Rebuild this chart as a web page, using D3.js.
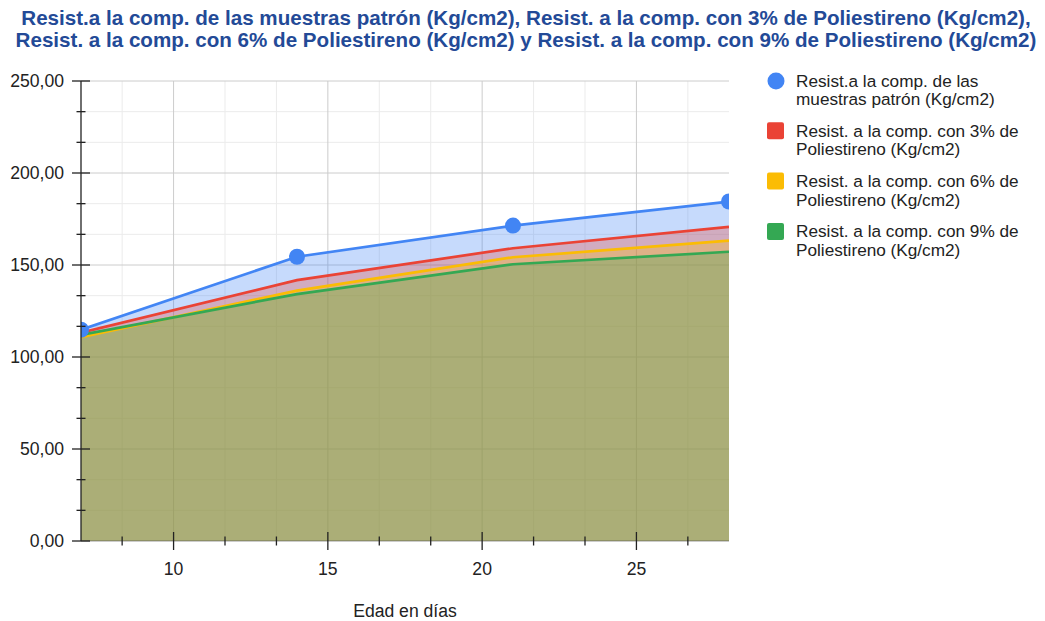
<!DOCTYPE html>
<html><head><meta charset="utf-8">
<script src="https://cdn.jsdelivr.net/npm/d3@7"></script>
<style>
body{margin:0;background:#fff;}
text{font-family:"Liberation Sans",Arial,sans-serif;}
</style></head>
<body><svg id="c" width="1045" height="621"></svg>
<script>
const days = [7, 14, 21, 28];
const seriesNames = [
  ["Resist.a la comp. de las", "muestras patrón (Kg/cm2)"],
  ["Resist. a la comp. con 3% de", "Poliestireno (Kg/cm2)"],
  ["Resist. a la comp. con 6% de", "Poliestireno (Kg/cm2)"],
  ["Resist. a la comp. con 9% de", "Poliestireno (Kg/cm2)"]
];
const patron = [114.8, 154.5, 171.4, 184.5];
const polie3 = [113.2, 141.8, 159.1, 170.7];
const polie6 = [110.8, 136.1, 154.2, 163.2];
const polie9 = [112.0, 134.2, 150.4, 157.2];
const seriesColors = ["#4285f4", "#ea4335", "#fbbc04", "#34a853"];
const xTicks = [10, 15, 20, 25];
const yTicks = [0, 50, 100, 150, 200, 250];
const titleLines = [
  "Resist.a la comp. de las muestras patrón (Kg/cm2), Resist. a la comp. con 3% de Poliestireno (Kg/cm2),",
  "Resist. a la comp. con 6% de Poliestireno (Kg/cm2) y Resist. a la comp. con 9% de Poliestireno (Kg/cm2)"
];
const xTitle = "Edad en días";

const series = [patron, polie3, polie6, polie9];
const svg = d3.select("#c");
const L = 81, R = 729, T = 81, B = 541;
const x = d3.scaleLinear().domain([7, 28]).range([L, R]);
const y = d3.scaleLinear().domain([0, 250]).range([B, T]);
const FS = 17.6;

// minor ticks
const xMinor = [];
for (let v = 5; v <= 30; v += 5) for (let k = 1; k < 3; k++) { const m = v + k * 5 / 3; if (m > 7 && m < 28) xMinor.push(m); }
const yMinor = [];
for (let v = 0; v < 250; v += 50) for (let k = 1; k < 3; k++) yMinor.push(v + k * 50 / 3);

const grid = svg.append("g");
grid.selectAll(".vm").data(xMinor).join("line").attr("x1", d => x(d)).attr("x2", d => x(d)).attr("y1", T).attr("y2", B).attr("stroke", "#ebebeb");
grid.selectAll(".hm").data(yMinor).join("line").attr("x1", L).attr("x2", R).attr("y1", d => y(d)).attr("y2", d => y(d)).attr("stroke", "#ebebeb");
grid.selectAll(".vM").data(xTicks).join("line").attr("x1", d => x(d)).attr("x2", d => x(d)).attr("y1", T).attr("y2", B).attr("stroke", "#cccccc");
grid.selectAll(".hM").data(yTicks.filter(d => d > 0)).join("line").attr("x1", L).attr("x2", R).attr("y1", d => y(d)).attr("y2", d => y(d)).attr("stroke", "#cccccc");

svg.append("defs").append("clipPath").attr("id", "clip").append("rect").attr("x", L).attr("y", 0).attr("width", R - L).attr("height", B);

const plot = svg.append("g").attr("clip-path", "url(#clip)");
const area = d3.area().x((d, i) => x(days[i])).y0(y(0)).y1(d => y(d));
const line = d3.line().x((d, i) => x(days[i])).y(d => y(d));
series.forEach((s, i) => {
  plot.append("path").attr("d", area(s)).attr("fill", seriesColors[i]).attr("fill-opacity", 0.3);
});
series.forEach((s, i) => {
  plot.append("path").attr("d", line(s)).attr("fill", "none").attr("stroke", seriesColors[i]).attr("stroke-width", 2.7);
});
plot.selectAll(".pt").data(patron).join("circle").attr("cx", (d, i) => x(days[i])).attr("cy", d => y(d)).attr("r", 8).attr("fill", seriesColors[0]);

// baseline
svg.append("line").attr("x1", L).attr("x2", R).attr("y1", B).attr("y2", B).attr("stroke", "#333").attr("stroke-opacity", 0.5);

// y axis
svg.append("line").attr("x1", L).attr("x2", L).attr("y1", T).attr("y2", B).attr("stroke", "#222").attr("stroke-width", 1.3);
svg.selectAll(".ytM").data(yTicks).join("line").attr("x1", L - 9).attr("x2", L + 9).attr("y1", d => y(d)).attr("y2", d => y(d)).attr("stroke", "#222").attr("stroke-width", 1.3);
svg.selectAll(".ytm").data(yMinor).join("line").attr("x1", L - 4.5).attr("x2", L + 4.5).attr("y1", d => y(d)).attr("y2", d => y(d)).attr("stroke", "#222").attr("stroke-width", 1.3);
const fmt = d => d3.format(".2f")(d).replace(".", ",");
svg.selectAll(".yl").data(yTicks).join("text").attr("x", 64).attr("y", d => y(d) + 6).attr("text-anchor", "end").attr("font-size", FS).attr("fill", "#222").text(fmt);

// x axis ticks
svg.selectAll(".xtM").data(xTicks).join("line").attr("x1", d => x(d)).attr("x2", d => x(d)).attr("y1", B - 9).attr("y2", B + 9).attr("stroke", "#222").attr("stroke-width", 1.3);
svg.selectAll(".xtm").data(xMinor).join("line").attr("x1", d => x(d)).attr("x2", d => x(d)).attr("y1", B - 4.5).attr("y2", B + 4.5).attr("stroke", "#222").attr("stroke-width", 1.3);
svg.selectAll(".xl").data(xTicks).join("text").attr("x", d => x(d)).attr("y", 575).attr("text-anchor", "middle").attr("font-size", FS).attr("fill", "#222").text(d => d);
svg.append("text").attr("x", (L + R) / 2).attr("y", 617).attr("text-anchor", "middle").attr("font-size", FS).attr("fill", "#222").text(xTitle);

// title
svg.selectAll(".tt").data(titleLines).join("text").attr("x", 526).attr("y", (d, i) => 25 + i * 22).attr("text-anchor", "middle").attr("font-size", 20.6).attr("font-weight", "bold").attr("fill", "#234a97").text(d => d);

// legend
const lg = svg.append("g");
seriesNames.forEach((nm, i) => {
  const cy = 81 + i * 50.3;
  if (i === 0) lg.append("circle").attr("cx", 776).attr("cy", cy).attr("r", 8.5).attr("fill", seriesColors[i]);
  else lg.append("rect").attr("x", 767).attr("y", cy - 9).attr("width", 17).attr("height", 17).attr("rx", 2).attr("fill", seriesColors[i]);
  nm.forEach((t, j) => lg.append("text").attr("x", 796).attr("y", cy + 5.5 + j * 18.5).attr("font-size", 17.2).attr("fill", "#222").text(t));
});
</script></body></html>
